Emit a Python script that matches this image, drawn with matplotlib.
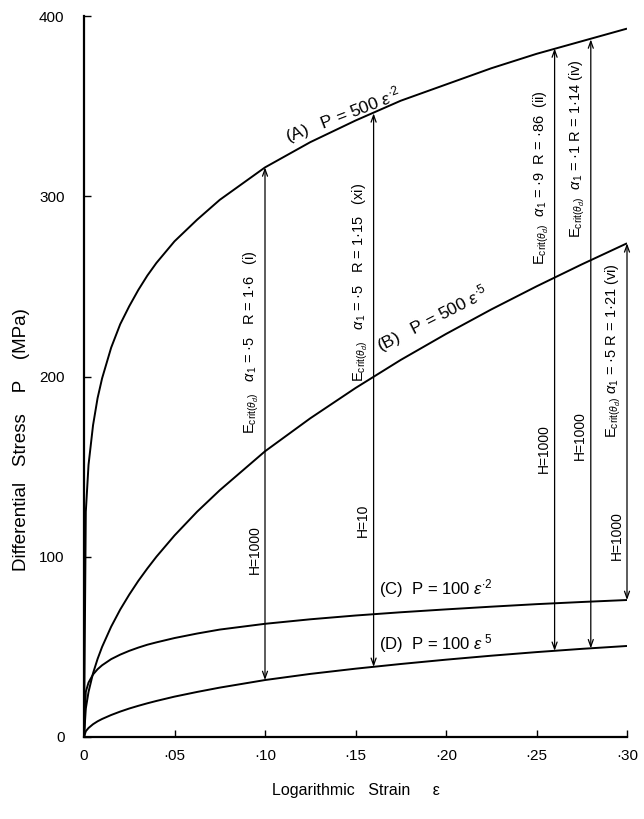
import matplotlib
matplotlib.use('Agg')
import matplotlib.pyplot as plt

# ---- data ----
strain = [0, 0.001, 0.0025, 0.005, 0.0075, 0.01, 0.015, 0.02, 0.025, 0.03, 0.035,
          0.04, 0.05, 0.0625, 0.075, 0.10, 0.125, 0.15, 0.175, 0.20, 0.225,
          0.25, 0.275, 0.30]
curve_a = [0, 125, 151, 173, 188, 199, 216, 229, 239, 248, 256,
           263, 275, 287, 298, 316, 330, 342, 353, 362, 371,
           379, 386, 393]
curve_b = [0, 15.8, 25, 35.4, 43.3, 50, 61.2, 70.7, 79, 86.6, 93.5,
           100, 111.8, 125, 136.9, 158.5, 176.8, 193.6, 209.2, 223.6, 237.2,
           250, 262.2, 273.9]
curve_c = [0, 25.1, 30.2, 34.7, 37.6, 39.8, 43.2, 45.7, 47.8, 49.6, 51.2,
           52.5, 54.9, 57.4, 59.6, 62.8, 65.3, 67.4, 69.2, 70.8, 72.3,
           73.7, 74.9, 76]
curve_d = [0, 3.2, 5, 7.1, 8.7, 10, 12.2, 14.1, 15.8, 17.3, 18.7,
           20, 22.4, 25, 27.4, 31.6, 35, 37.9, 40.5, 42.9, 45.1,
           47.1, 48.9, 50.5]

arrow_x = [0.10, 0.16, 0.26, 0.28, 0.30]
arrow_bottom = [31.6, 38.9, 47.8, 49.2, 76]
arrow_top = [316, 346, 382, 387, 273.9]
h_labels = ['H=1000', 'H=10', 'H=1000', 'H=1000', 'H=1000']
alpha_vals = ['·5', '·5', '·9', '·1', '·5']
r_vals = ['1·6', '1·15', '·86', '1·14', '1·21']
case_ids = ['(i)', '(xi)', '(ii)', '(iv)', '(vi)']

x_ticks = [0, 0.05, 0.10, 0.15, 0.20, 0.25, 0.30]
x_tick_labels = ['0', '·05', '·10', '·15', '·20', '·25', '·30']
y_ticks = [0, 100, 200, 300, 400]
y_tick_labels = ['0', '100', '200', '300', '400']

# ---- layout ----
h_label_y = [104, 120, 160, 167, 112]
upper_label_y = [168, 197, 262, 277, 166]
upper_gaps = [('   ', '   ', '   '), ('   ', '   ', '   '), ('  ', '  ', '  '),
              ('  ', ' ', ' '), (' ', ' ', ' ')]

FONT = ['Liberation Sans', 'DejaVu Sans']
plt.rcParams['font.family'] = FONT
plt.rcParams['mathtext.fontset'] = 'custom'
plt.rcParams['mathtext.rm'] = 'Liberation Sans'
plt.rcParams['mathtext.it'] = 'Liberation Sans:italic'
plt.rcParams['mathtext.bf'] = 'Liberation Sans:bold'

fig = plt.figure(figsize=(6.44, 8.19), dpi=100)
ax = fig.add_axes([84 / 644, 82 / 819, 543 / 644, 721 / 819])

lw = 1.4
for ys in (curve_a, curve_b, curve_c, curve_d):
    ax.plot(strain, ys, color='black', lw=lw, solid_capstyle='butt',
            solid_joinstyle='round')

ax.set_xlim(0, 0.30)
ax.set_ylim(0, 400)
for s in ('top', 'right'):
    ax.spines[s].set_visible(False)
for s in ('left', 'bottom'):
    ax.spines[s].set_linewidth(1.6)

ax.set_xticks(x_ticks)
ax.set_xticklabels(x_tick_labels)
ax.set_yticks(y_ticks)
ax.set_yticklabels(y_tick_labels)
ax.tick_params(direction='in', length=5, width=1, labelsize=11, pad=9)
ax.tick_params(axis='y', pad=14)

ax.set_xlabel('Logarithmic   Strain     ε', fontsize=11.5, labelpad=14)
fig.text(22 / 644, (819 - 440) / 819, 'Differential   Stress    P    (MPa)',
         rotation=90, ha='center', va='center', fontsize=13.5)

# vertical double arrows
for i in range(len(arrow_x)):
    ax.annotate('', xy=(arrow_x[i], arrow_top[i]), xytext=(arrow_x[i], arrow_bottom[i]),
                arrowprops=dict(arrowstyle='<->,head_length=0.5,head_width=0.18',
                                color='black', lw=0.9, shrinkA=0, shrinkB=0))
    ax.text(arrow_x[i] - 0.002, h_label_y[i], h_labels[i], rotation=90,
            ha='right', va='center', fontsize=10)
    g1, g2, g3 = upper_gaps[i]
    txt = (r'E$_{\mathrm{crit}(\theta_d)}$' + g1 + r'$\alpha_1$ = ' + alpha_vals[i]
           + g2 + 'R = ' + r_vals[i] + g3 + case_ids[i])
    ax.text(arrow_x[i] - 0.002, upper_label_y[i], txt, rotation=90,
            ha='right', va='bottom', fontsize=10.5)

# curve labels
ax.text(0.114, 327, r'(A)   P = 500 $\varepsilon^{\cdot2}$', rotation=21,
        rotation_mode='anchor', ha='left', va='bottom', fontsize=12.5)
ax.text(0.165, 211, r'(B)   P = 500 $\varepsilon^{\cdot5}$', rotation=27,
        rotation_mode='anchor', ha='left', va='bottom', fontsize=12.5)
ax.text(0.163, 82.5, r'(C)  P = 100 $\varepsilon^{\cdot2}$', ha='left',
        va='center', fontsize=12)
ax.text(0.163, 52, r'(D)  P = 100 $\varepsilon^{\ 5}$', ha='left',
        va='center', fontsize=12)

fig.savefig('out.png', dpi=100)
